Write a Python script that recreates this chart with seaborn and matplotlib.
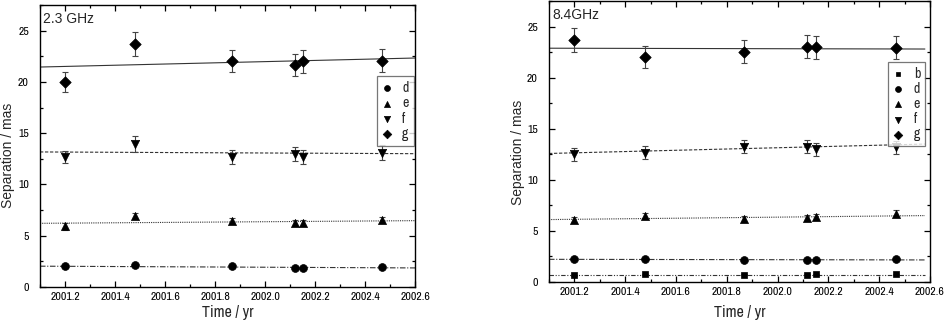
import numpy as np
import pandas as pd
import matplotlib
matplotlib.use("Agg")
import matplotlib.pyplot as plt
from matplotlib import font_manager
import seaborn as sns

# observing epochs (same for both bands)
epochs = [2001.2, 2001.48, 2001.867, 2002.117, 2002.15, 2002.467]

# 2.3 GHz separations (mas) and errors
s_d_23 = [2.0, 2.1, 2.0, 1.83, 1.83, 1.96]
s_e_23 = [5.9, 6.93, 6.47, 6.27, 6.2, 6.54]
s_f_23 = [12.65, 13.95, 12.7, 13.0, 12.7, 13.1]
s_g_23 = [20.0, 23.7, 22.0, 21.65, 22.0, 22.05]
err_d_23 = [0.1, 0.1, 0.1, 0.1, 0.1, 0.1]
err_e_23 = [0.3, 0.3, 0.3, 0.3, 0.3, 0.3]
err_f_23 = [0.6, 0.75, 0.7, 0.7, 0.7, 0.7]
err_g_23 = [1.0, 1.2, 1.08, 1.08, 1.1, 1.12]
# linear fits: value at start / end of fit range
fit_23 = {"d": (2.03, 1.86), "e": (6.21, 6.47), "f": (13.17, 13.0), "g": (21.45, 22.33)}
fit_x_23 = (2001.1, 2002.6)

# 8.4 GHz separations (mas) and errors
s_b_84 = [0.65, 0.78, 0.72, 0.69, 0.75, 0.78]
s_d_84 = [2.22, 2.29, 2.19, 2.12, 2.12, 2.22]
s_e_84 = [6.05, 6.44, 6.2, 6.27, 6.37, 6.7]
s_f_84 = [12.48, 12.65, 13.24, 13.24, 13.0, 13.17]
s_g_84 = [23.69, 22.0, 22.55, 23.04, 22.97, 22.94]
err_b_84 = [0.05, 0.05, 0.05, 0.05, 0.05, 0.05]
err_d_84 = [0.1, 0.1, 0.1, 0.1, 0.1, 0.1]
err_e_84 = [0.3, 0.3, 0.3, 0.3, 0.3, 0.3]
err_f_84 = [0.65, 0.65, 0.65, 0.65, 0.65, 0.65]
err_g_84 = [1.18, 1.1, 1.15, 1.15, 1.15, 1.15]
fit_84 = {"b": (0.69, 0.69), "d": (2.22, 2.16), "e": (6.11, 6.5), "f": (12.58, 13.5), "g": (22.88, 22.8)}
fit_x_84 = (2001.1, 2002.58)

markers = {"b": "s", "d": "o", "e": "^", "f": "v", "g": "D"}
sizes = {"b": 22, "d": 32, "e": 34, "f": 36, "g": 34}
styles = {"b": (0, (4, 1.5, 1, 1.5, 1, 1.5)), "d": (0, (5, 1.5, 1, 1.5)),
          "e": (0, (1, 1)), "f": (0, (3, 1.5)), "g": "-"}

sns.set_theme(style="ticks")

# the reference text is narrow; use a condensed face if one is installed
names = sorted({f.name for f in font_manager.fontManager.ttflist})
prefer = ["Liberation Sans Narrow", "Arial Narrow", "Nimbus Sans Narrow"]
narrow = [n for n in prefer if n in names]
narrow += [n for n in names if ("Narrow" in n or "Condensed" in n) and n not in narrow]
base = ["Liberation Sans", "DejaVu Sans"]
hfont = narrow[:1] + base
plt.rcParams["font.family"] = hfont
plt.rcParams["xtick.direction"] = "in"
plt.rcParams["ytick.direction"] = "in"
tick_size = 8.5 if narrow else 7


def make_df(series, errs):
    rows = []
    for comp in series:
        for t, v, e in zip(epochs, series[comp], errs[comp]):
            rows.append({"time": t, "sep": v, "err": e, "comp": comp})
    return pd.DataFrame(rows)


df23 = make_df({"d": s_d_23, "e": s_e_23, "f": s_f_23, "g": s_g_23},
               {"d": err_d_23, "e": err_e_23, "f": err_f_23, "g": err_g_23})
df84 = make_df({"b": s_b_84, "d": s_d_84, "e": s_e_84, "f": s_f_84, "g": s_g_84},
               {"b": err_b_84, "d": err_d_84, "e": err_e_84, "f": err_f_84, "g": err_g_84})

fig = plt.figure(figsize=(9.47, 3.22), dpi=100)
ax1 = fig.add_axes([0.0422, 0.1087, 0.3965, 0.8758])
ax2 = fig.add_axes([0.5797, 0.1242, 0.4023, 0.8727])


def draw(ax, df, fits, fit_x, title, leg_anchor, lspace, xlab_xy, ylab_xy):
    handles = []
    for comp, sub in df.groupby("comp"):
        f0, f1 = fits[comp]
        sns.lineplot(x=list(fit_x), y=[f0, f1], ax=ax, color="#333333", lw=0.8,
                     linestyle=styles[comp], zorder=1)
        ax.errorbar(sub["time"], sub["sep"], yerr=sub["err"], fmt="none",
                    ecolor="#444444", elinewidth=0.8, capsize=2.5, capthick=0.8, zorder=2)
        sns.scatterplot(data=sub, x="time", y="sep", marker=markers[comp], s=sizes[comp],
                        color="black", edgecolor="black", linewidth=0.5, ax=ax, zorder=3)
        handles.append(ax.collections[-1])
    labels = sorted(df["comp"].unique())
    leg = ax.legend(handles, labels, loc="upper right", bbox_to_anchor=leg_anchor,
                    borderaxespad=0, frameon=True, fancybox=False, edgecolor="#555555",
                    handlelength=0.8, handletextpad=0.7, labelspacing=lspace,
                    borderpad=0.35, markerscale=0.75,
                    prop={"family": hfont, "size": 10})
    leg.get_frame().set_linewidth(0.9)
    ax.set_xlim(2001.1, 2002.6)
    ax.set_ylim(0, 27.5)
    ax.set_xticks([2001.2, 2001.4, 2001.6, 2001.8, 2002.0, 2002.2, 2002.4, 2002.6])
    ax.set_xticks(np.arange(2001.1, 2002.61, 0.1), minor=True)
    ax.set_yticks([0, 5, 10, 15, 20, 25])
    ax.set_yticks(np.arange(0, 27.6, 2.5), minor=True)
    ax.xaxis.set_major_formatter(matplotlib.ticker.FormatStrFormatter("%.1f"))
    ax.tick_params(which="both", top=True, right=True, labelsize=tick_size, width=0.9,
                   colors="black")
    ax.tick_params(which="major", length=4)
    ax.tick_params(which="minor", length=2.5)
    ax.tick_params(axis="y", which="major", pad=8)
    for sp in ax.spines.values():
        sp.set_linewidth(1.0)
        sp.set_color("black")
    ax.set_xlabel("Time / yr", fontsize=11.5)
    ax.set_ylabel("Separation / mas", fontsize=10, family=base)
    ax.xaxis.set_label_coords(*xlab_xy)
    ax.yaxis.set_label_coords(*ylab_xy)
    ax.text(0.008, 0.975, title, transform=ax.transAxes, ha="left", va="top",
            fontsize=10, family=base)


draw(ax1, df23, fit_23, fit_x_23, "2.3 GHz", (0.995, 0.748), 0.1,
     (0.5, -0.064), (-0.066, 0.468))
draw(ax2, df84, fit_84, fit_x_84, "8.4GHz", (0.987, 0.783), 0.08,
     (0.5, -0.082), (-0.063, 0.463))

fig.savefig("out.png", dpi=100)
